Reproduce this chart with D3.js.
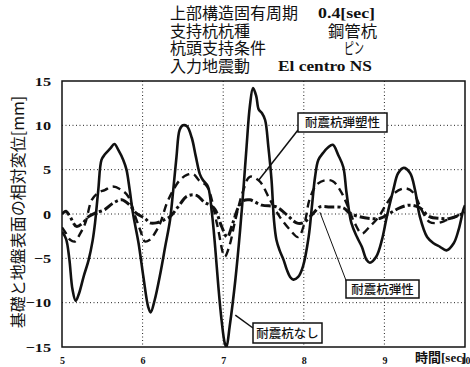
<!DOCTYPE html>
<html>
<head>
<meta charset="utf-8">
<script src="https://cdn.jsdelivr.net/npm/d3@7"></script>
<style>
  body { margin: 0; background: #fff; }
  svg { display: block; }
  .cjk { font-family: "Noto Sans CJK JP", sans-serif; fill: #111; }
  .num { font-family: "Liberation Serif", serif; font-weight: bold; fill: #111; }
</style>
</head>
<body>
<script>
// time [sec] and displacement [mm]
var timeNone = [5.00,5.05,5.09,5.13,5.17,5.21,5.27,5.33,5.38,5.41,5.45,5.49,5.53,5.60,5.65,5.70,5.76,5.80,5.84,5.88,5.95,6.01,6.07,6.10,6.15,6.22,6.28,6.34,6.38,6.42,6.46,6.50,6.55,6.61,6.66,6.71,6.75,6.81,6.86,6.90,6.94,6.98,7.02,7.04,7.08,7.15,7.21,7.25,7.29,7.33,7.37,7.41,7.44,7.48,7.52,7.56,7.60,7.63,7.66,7.70,7.75,7.79,7.83,7.87,7.93,7.99,8.06,8.10,8.14,8.18,8.24,8.30,8.36,8.43,8.49,8.53,8.59,8.66,8.72,8.78,8.82,8.90,8.97,9.03,9.11,9.17,9.24,9.32,9.38,9.44,9.53,9.61,9.69,9.77,9.86,9.92,9.98,10.00];
var dispNone = [-2.0,-2.8,-5.0,-8.5,-9.8,-9.0,-7.0,-5.2,-3.0,-1.0,2.7,6.1,6.7,7.4,7.9,7.2,6.1,5.0,2.7,0.1,-3.3,-7.1,-10.5,-11.1,-9.7,-6.7,-3.7,-0.7,2.7,6.4,9.5,10.0,9.9,8.6,6.5,4.5,3.8,3.1,0.1,-3.7,-8.2,-12.0,-14.6,-15.0,-12.7,-7.5,-1.8,2.7,7.6,12.1,14.2,13.3,11.8,11.4,10.6,7.6,3.8,-0.7,-2.9,-4.1,-5.2,-6.3,-7.1,-7.4,-7.1,-5.9,-2.6,0.8,4.2,6.1,6.9,7.5,7.8,6.6,5.3,2.4,-1.0,-2.6,-3.7,-5.2,-5.5,-4.8,-2.9,-0.3,2.7,4.6,5.2,4.6,2.7,-0.3,-2.6,-3.3,-3.7,-4.1,-3.3,-1.8,0.5,1.0];

var timePlastic = [5.00,5.05,5.10,5.16,5.22,5.29,5.37,5.45,5.53,5.63,5.74,5.82,5.91,5.97,6.03,6.09,6.15,6.22,6.30,6.38,6.46,6.55,6.63,6.70,6.80,6.92,7.02,7.08,7.15,7.25,7.33,7.45,7.58,7.70,7.83,7.93,8.01,8.07,8.16,8.26,8.36,8.45,8.53,8.63,8.72,8.82,8.93,9.03,9.13,9.26,9.36,9.46,9.56,9.67,9.77,9.88,10.00];
var dispPlastic = [-1.5,-2.2,-2.9,-3.1,-2.3,-1.0,1.6,2.4,2.7,3.1,2.7,2.0,-0.3,-1.8,-3.1,-2.9,-2.2,-1.0,1.2,2.7,3.8,4.4,4.5,3.8,3.1,-1.0,-4.8,-3.5,-0.7,2.7,4.2,3.7,1.6,-0.3,-1.8,-2.6,-1.0,1.6,3.3,3.8,3.7,2.7,1.2,-1.0,-2.2,-1.4,-0.3,1.2,2.4,2.9,2.4,0.5,-0.9,-1.0,-0.7,-0.3,0.2];

var timeElastic = [5.00,5.05,5.10,5.18,5.26,5.33,5.41,5.53,5.63,5.74,5.84,5.92,6.03,6.09,6.17,6.26,6.34,6.44,6.55,6.67,6.77,6.84,6.90,6.98,7.05,7.12,7.19,7.25,7.33,7.48,7.66,7.79,7.91,7.99,8.12,8.20,8.32,8.49,8.57,8.69,8.82,8.94,9.07,9.19,9.32,9.44,9.56,9.69,9.81,9.94,10.00];
var dispElastic = [0.0,0.3,-0.3,-1.4,-1.0,-0.3,0.1,0.5,1.2,1.6,1.0,0.1,-0.5,-1.0,-1.0,-0.7,-0.3,0.8,2.0,2.1,1.3,1.0,0.5,-1.4,-2.6,-1.0,0.8,1.5,1.6,1.0,0.8,-0.1,-1.0,-1.0,0.1,0.8,0.8,0.7,0.1,-0.3,-0.5,-0.5,0.1,0.7,1.0,0.7,-0.3,-0.5,-0.5,-0.1,0.3];

var xTicks = [5, 6, 7, 8, 9, 10];
var yTicks = [-15, -10, -5, 0, 5, 10, 15];

var headLabels = ["上部構造固有周期", "支持杭杭種", "杭頭支持条件", "入力地震動"];
var headValues = ["0.4[sec]", "鋼管杭", "ピン", "El centro NS"];

var seriesNames = ["耐震杭なし", "耐震杭弾塑性", "耐震杭弾性"];

var width = 470,
    height = 367,
    pLeft = 62, pRight = 465, pTop = 81, pBottom = 347;

var x = d3.scaleLinear().domain([5, 10]).range([pLeft, pRight]);
var y = d3.scaleLinear().domain([-15, 15]).range([pBottom, pTop]);

var svg = d3.select("body").append("svg")
  .attr("width", width)
  .attr("height", height);

svg.append("rect").attr("width", width).attr("height", height).attr("fill", "#fff");

// header block: label column and value column
var headG = svg.append("g");
headLabels.forEach(function (t, i) {
  headG.append("text")
    .attr("class", "cjk")
    .attr("x", 170)
    .attr("y", 19 + i * 17.5)
    .attr("font-size", "16px")
    .text(t);
});
var valueX = [318, 328, 344, 278],
    valueLen = [57, 49, 20, 94];
headValues.forEach(function (t, i) {
  var isNum = (i == 0 || i == 3);
  headG.append("text")
    .attr("class", isNum ? "num" : "cjk")
    .attr("x", valueX[i])
    .attr("y", 19 + i * 17.5 - (isNum ? 1 : 0))
    .attr("font-size", isNum ? "14px" : "16px")
    .attr("textLength", valueLen[i])
    .attr("lengthAdjust", "spacingAndGlyphs")
    .text(t);
});

// grid
var grid = svg.append("g")
  .attr("stroke", "#222")
  .attr("stroke-width", 1)
  .attr("stroke-dasharray", "1,2.5");
grid.selectAll(".gx").data(xTicks.slice(1, -1)).join("line")
  .attr("class", "gx")
  .attr("x1", d => x(d)).attr("x2", d => x(d))
  .attr("y1", pTop).attr("y2", pBottom);
grid.selectAll(".gy").data(yTicks.slice(1, -1)).join("line")
  .attr("class", "gy")
  .attr("x1", pLeft).attr("x2", pRight)
  .attr("y1", d => y(d)).attr("y2", d => y(d));

// axes (labels only, frame drawn separately)
var yAxis = svg.append("g")
  .attr("transform", `translate(${pLeft},0)`)
  .call(d3.axisLeft(y).tickValues(yTicks).tickFormat(d3.format("d")).tickSize(0).tickPadding(11));
yAxis.select(".domain").remove();
yAxis.selectAll("text")
  .attr("class", "num")
  .attr("font-size", "13px")
  .attr("transform", "scale(1.25,1)")
  .attr("x", -11 / 1.25);

var xAxis = svg.append("g")
  .attr("transform", `translate(0,${pBottom})`)
  .call(d3.axisBottom(x).tickValues(xTicks).tickFormat(d3.format("d")).tickSize(0).tickPadding(10));
xAxis.select(".domain").remove();
xAxis.selectAll("text")
  .attr("class", "num")
  .attr("font-size", "10px");

svg.append("defs").append("clipPath").attr("id", "plot")
  .append("rect")
  .attr("x", pLeft).attr("y", pTop)
  .attr("width", pRight - pLeft).attr("height", pBottom - pTop);

var line = d3.line()
  .x(d => x(d[0]))
  .y(d => y(d[1]))
  .curve(d3.curveCatmullRom.alpha(0.5));

var series = [
  { name: seriesNames[0], pts: d3.zip(timeNone, dispNone), w: 2.6, dash: null },
  { name: seriesNames[1], pts: d3.zip(timePlastic, dispPlastic), w: 2.4, dash: "8,5" },
  { name: seriesNames[2], pts: d3.zip(timeElastic, dispElastic), w: 3, dash: "10,3,3,3" }
];

svg.append("g").attr("clip-path", "url(#plot)")
  .selectAll("path").data(series).join("path")
  .attr("d", d => line(d.pts))
  .attr("fill", "none")
  .attr("stroke", "#111")
  .attr("stroke-width", d => d.w)
  .attr("stroke-dasharray", d => d.dash)
  .attr("stroke-linejoin", "round");

// frame
svg.append("rect")
  .attr("x", pLeft).attr("y", pTop)
  .attr("width", pRight - pLeft).attr("height", pBottom - pTop)
  .attr("fill", "none")
  .attr("stroke", "#111")
  .attr("stroke-width", 1.5);

// callouts: box [x, y, w, h], leader tip in data units
var callouts = [
  { text: seriesNames[1], box: [298, 113, 89, 19], from: [298, 130], tip: [7.44, 3.8], w: 1.5 },
  { text: seriesNames[2], box: [346, 280, 73, 18], from: [347, 283], tip: [8.2, 0.2], w: 1 },
  { text: seriesNames[0], box: [253, 323, 69, 20], from: [253, 328], tip: [7.15, -11.4], w: 1.5 }
];
var cg = svg.selectAll(".callout").data(callouts).join("g").attr("class", "callout");
cg.append("line")
  .attr("x1", d => d.from[0]).attr("y1", d => d.from[1])
  .attr("x2", d => x(d.tip[0])).attr("y2", d => y(d.tip[1]))
  .attr("stroke", "#111")
  .attr("stroke-width", d => d.w);
cg.append("rect")
  .attr("x", d => d.box[0]).attr("y", d => d.box[1])
  .attr("width", d => d.box[2]).attr("height", d => d.box[3])
  .attr("fill", "#fff")
  .attr("stroke", "#111")
  .attr("stroke-width", 1.5);
cg.append("text")
  .attr("class", "cjk")
  .attr("x", d => d.box[0] + d.box[2] / 2)
  .attr("y", d => d.box[1] + d.box[3] / 2 + 4.5)
  .attr("text-anchor", "middle")
  .attr("font-size", "12.5px")
  .attr("font-weight", 500)
  .text(d => d.text);

// axis titles
svg.append("text")
  .attr("class", "cjk")
  .attr("transform", "translate(24,212) rotate(-90)")
  .attr("text-anchor", "middle")
  .attr("font-size", "16px")
  .text("基礎と地盤表面の相対変位[mm]");

var xt = svg.append("text")
  .attr("x", 415)
  .attr("y", 362);
xt.append("tspan").attr("class", "cjk").attr("font-size", "13px").attr("font-weight", "bold").text("時間");
xt.append("tspan").attr("class", "num").attr("font-size", "13px").text("[sec]");
</script>
</body>
</html>
